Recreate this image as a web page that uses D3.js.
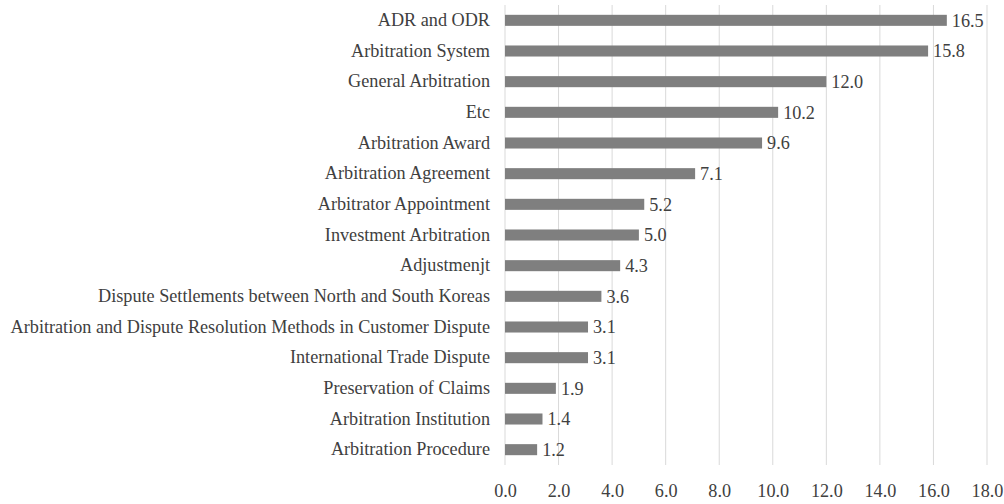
<!DOCTYPE html>
<html>
<head>
<meta charset="utf-8">
<script src="https://cdn.jsdelivr.net/npm/d3@7"></script>
<style>
  body { margin: 0; background: #fff; }
</style>
</head>
<body>
<div id="plot"></div>
<script>
const w = 1004;
const h = 504;
const margin = {top: 5, right: 17, bottom: 39, left: 505};
const innerWidth = w - margin.left - margin.right;
const innerHeight = h - margin.top - margin.bottom;
const fontFamily = "\"Liberation Serif\"";
const fontSize = "18.2px";
const textColor = "#404040";

const categories = [
  "ADR and ODR",
  "Arbitration System",
  "General Arbitration",
  "Etc",
  "Arbitration Award",
  "Arbitration Agreement",
  "Arbitrator Appointment",
  "Investment Arbitration",
  "Adjustmenjt",
  "Dispute Settlements between North and South Koreas",
  "Arbitration and Dispute Resolution Methods in Customer Dispute",
  "International Trade Dispute",
  "Preservation of Claims",
  "Arbitration Institution",
  "Arbitration Procedure"
];
const values = [16.5, 15.8, 12.0, 10.2, 9.6, 7.1, 5.2, 5.0, 4.3, 3.6, 3.1, 3.1, 1.9, 1.4, 1.2];
const xTicks = [0, 2, 4, 6, 8, 10, 12, 14, 16, 18];

const data = categories.map((c, i) => ({category: c, value: values[i]}));

const xScale = d3.scaleLinear()
  .domain([0, 18])
  .range([0, innerWidth]);

const yScale = d3.scaleBand()
  .domain(categories)
  .range([0, innerHeight])
  .paddingInner(0.64)
  .paddingOuter(0.32);

const svg = d3.select("div#plot")
  .append("svg")
  .attr("width", w)
  .attr("height", h);

const g = svg.append("g")
  .attr("transform", `translate(${margin.left}, ${margin.top})`);

// gridlines
g.append("g")
  .selectAll("line")
  .data(xTicks)
  .enter().append("line")
  .attr("x1", d => xScale(d))
  .attr("x2", d => xScale(d))
  .attr("y1", 0)
  .attr("y2", innerHeight)
  .attr("stroke", "#d9d9d9")
  .attr("stroke-width", 1);

// bars
g.append("g")
  .selectAll("rect")
  .data(data)
  .enter().append("rect")
  .attr("x", 0)
  .attr("y", d => yScale(d.category))
  .attr("width", d => xScale(d.value))
  .attr("height", yScale.bandwidth())
  .attr("fill", "#7f7f7f");

// value labels
g.append("g")
  .selectAll("text")
  .data(data)
  .enter().append("text")
  .attr("x", d => xScale(d.value) + 5)
  .attr("y", d => yScale(d.category) + yScale.bandwidth() / 2)
  .attr("dy", "0.35em")
  .style("font-family", fontFamily)
  .style("font-size", fontSize)
  .style("fill", textColor)
  .text(d => d.value.toFixed(1));

// y axis labels
const yAxis = d3.axisLeft(yScale).tickSize(0).tickPadding(15);
g.append("g")
  .attr("class", "yAxis")
  .call(yAxis)
  .call(s => s.select(".domain").remove())
  .selectAll("text")
  .style("font-family", fontFamily)
  .style("font-size", fontSize)
  .style("fill", textColor);

// x axis
const xAxis = d3.axisBottom(xScale)
  .tickValues(xTicks)
  .tickFormat(d3.format(".1f"))
  .tickSize(0)
  .tickPadding(19);
g.append("g")
  .attr("class", "xAxis")
  .attr("transform", `translate(0, ${innerHeight})`)
  .call(xAxis)
  .call(s => s.select(".domain").remove())
  .selectAll("text")
  .style("font-family", fontFamily)
  .style("font-size", fontSize)
  .style("fill", textColor);
</script>
</body>
</html>
